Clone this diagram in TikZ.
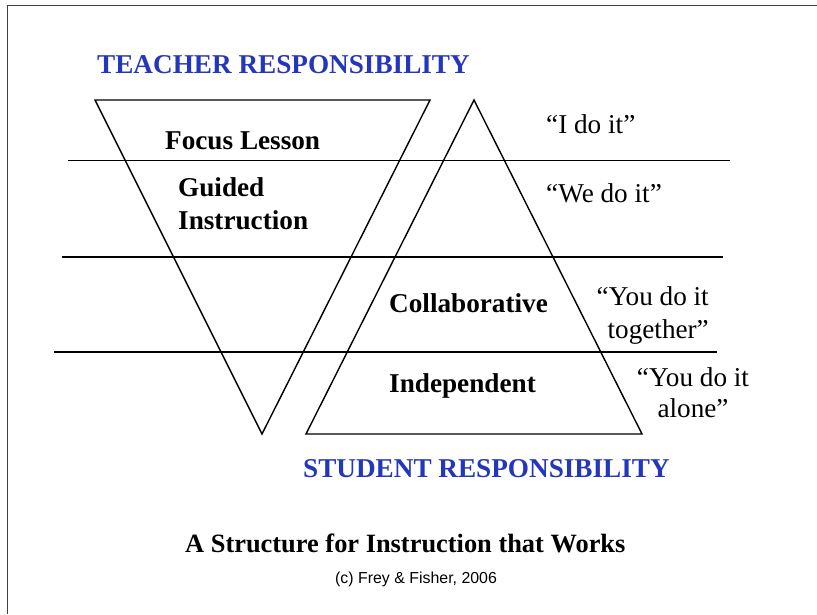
\documentclass[tikz,border=0pt]{standalone}
\usepackage{fontspec}
\setmainfont{Liberation Serif}
\newfontfamily\arialfont{Liberation Sans}
\definecolor{headblue}{RGB}{36,54,188}
\tikzset{
  big/.style={inner sep=0pt, font=\fontsize{27.2}{32.5}\selectfont},
  bigbold/.style={big, font=\fontsize{27.2}{32.5}\selectfont\bfseries},
  head/.style={bigbold, text=headblue},
  edge/.style={line width=1.4pt}
}
\begin{document}
\begin{tikzpicture}[x=1pt,y=-1pt]
    \useasboundingbox (0,0) rectangle (817,614);
    % frame
    \coordinate (f1) at (7.3,614);
    \coordinate (f2) at (7.3,5.5);
    \coordinate (f3) at (817,5.5);
    \draw [line width=1.5pt, black!75] (f1) -- (f2) -- (f3);
    % triangles
    \coordinate (t1) at (95,100);
    \coordinate (t2) at (430,100);
    \coordinate (t3) at (262,434);
    \coordinate (s1) at (474,100);
    \coordinate (s2) at (306,434);
    \coordinate (s3) at (642,434);
    \draw [edge] (t1) -- (t2) -- (t3) -- cycle;
    \draw [edge] (s1) -- (s2) -- (s3) -- cycle;
    % bands
    \coordinate (a1) at (68,160.5);
    \coordinate (a2) at (730,160.5);
    \coordinate (b1) at (62,257);
    \coordinate (b2) at (723,257);
    \coordinate (c1) at (54,352);
    \coordinate (c2) at (717,352);
    \draw [edge] (a1) -- (a2);
    \draw [edge] (b1) -- (b2);
    \draw [edge] (c1) -- (c2);
    % labels
    \node [head, anchor=base west] (teach) at (97,73) {TEACHER RESPONSIBILITY};
    \node [head, anchor=base west] (stud) at (303,477) {STUDENT RESPONSIBILITY};
    \node [bigbold, anchor=base west] (focus) at (165,149) {Focus Lesson};
    \node [bigbold, anchor=base west, align=left] (guided) at (178,229) {Guided\\Instruction};
    \node [bigbold, anchor=base west] (collab) at (389,312) {Collaborative};
    \node [bigbold, anchor=base west] (indep) at (389,392) {Independent};
    \node [big, anchor=base west] (q1) at (546,133) {“I do it”};
    \node [big, anchor=base west] (q2) at (546,202) {“We do it”};
    \node [big, anchor=base east, align=right] (q3) at (709,338) {“You do it\\together”};
    \node [big, anchor=base, align=center, font=\fontsize{27.2}{30.5}\selectfont] (q4) at (693,417) {“You do it\\alone”};
    \node [bigbold, anchor=base west, font=\fontsize{26.4}{32}\selectfont\bfseries] (title) at (185,552) {A Structure for Instruction that Works};
    \node [inner sep=0pt, anchor=base west, font=\fontsize{15.9}{19}\arialfont] (copy) at (335,583) {(c) Frey \& Fisher, 2006};
\end{tikzpicture}
\end{document}
